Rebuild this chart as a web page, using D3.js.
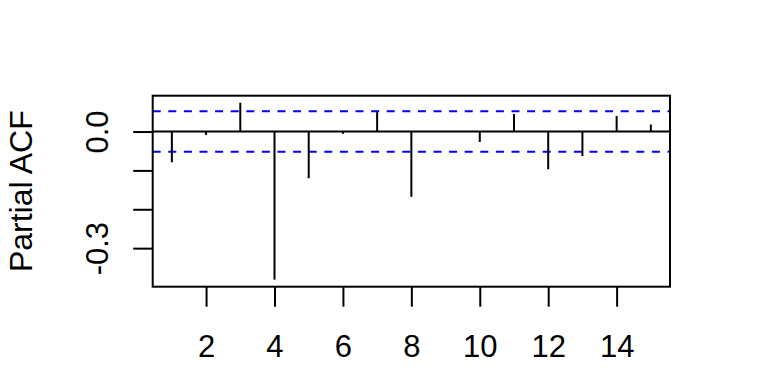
<!DOCTYPE html>
<html>
<head>
<meta charset="UTF-8">
<script src="https://d3js.org/d3.v7.min.js"></script>
<style>
  body { margin: 0; background: #fff; overflow: hidden; }
  svg { display: block; font-family: "Liberation Sans", Arial, sans-serif; }
</style>
</head>
<body>
<div id="chart"></div>
<script>
  // PACF values by lag
  const lags = [1, 2, 3, 4, 5, 6, 7, 8, 9, 10, 11, 12, 13, 14, 15];
  const pacf = [-0.079, -0.009, 0.074, -0.381, -0.120, -0.006, 0.050, -0.168, 0.001, -0.027, 0.045, -0.097, -0.063, 0.040, 0.018];
  const clim = 0.052;
  const xTicks = [2, 4, 6, 8, 10, 12, 14];
  const yTicks = [-0.3, -0.2, -0.1, 0.0];
  const yLabelled = [-0.3, 0.0];

  const W = 768, H = 384;
  const plot = { left: 152.7, right: 670, top: 95.7, bottom: 286.7 };

  const svg = d3.select("#chart").append("svg")
    .attr("width", W).attr("height", H);

  // R style 4% extension of the data range
  const xr = d3.extent(lags), xpad = (xr[1] - xr[0]) * 0.04;
  const yr = d3.extent(pacf.concat([clim, -clim])), ypad = (yr[1] - yr[0]) * 0.04;

  const x = d3.scaleLinear().domain([xr[0] - xpad, xr[1] + xpad]).range([plot.left, plot.right]);
  const y = d3.scaleLinear().domain([yr[0] - ypad, yr[1] + ypad]).range([plot.bottom, plot.top]);

  const fontSize = 31;

  // x axis
  const gx = svg.append("g")
    .attr("transform", `translate(0,${plot.bottom})`)
    .call(d3.axisBottom(x).tickValues(xTicks).tickSize(20).tickFormat(d3.format("d")));
  gx.select(".domain").remove();
  gx.selectAll(".tick line").attr("stroke", "#000").attr("stroke-width", 2);
  gx.selectAll(".tick text").attr("font-size", fontSize).attr("fill", "#000")
    .attr("dy", null).attr("y", 70.5);

  // y axis
  const gy = svg.append("g")
    .attr("transform", `translate(${plot.left},0)`)
    .call(d3.axisLeft(y).tickValues(yTicks).tickSize(19.5)
      .tickFormat(d => yLabelled.some(v => Math.abs(v - d) < 1e-9) ? d3.format(".1f")(d).replace("−", "-") : ""));
  gy.select(".domain").remove();
  gy.selectAll(".tick line").attr("stroke", "#000").attr("stroke-width", 2);
  gy.selectAll(".tick text")
    .attr("font-size", fontSize).attr("fill", "#000")
    .attr("x", null).attr("dy", null).attr("y", null)
    .attr("text-anchor", "middle")
    .attr("transform", "translate(-44.5,0) rotate(-90)");

  // zero line
  svg.append("line")
    .attr("x1", plot.left).attr("x2", plot.right)
    .attr("y1", y(0)).attr("y2", y(0))
    .attr("stroke", "#000").attr("stroke-width", 2);

  // confidence limits
  svg.selectAll("line.clim").data([clim, -clim]).enter().append("line")
    .attr("class", "clim")
    .attr("x1", plot.left).attr("x2", plot.right)
    .attr("y1", d => y(d)).attr("y2", d => y(d))
    .attr("stroke", "#0000ff").attr("stroke-width", 2)
    .attr("stroke-dasharray", "8,7.6");

  // spikes
  svg.selectAll("line.spike").data(lags).enter().append("line")
    .attr("class", "spike")
    .attr("x1", d => x(d)).attr("x2", d => x(d))
    .attr("y1", y(0)).attr("y2", (d, i) => y(pacf[i]))
    .attr("stroke", "#000").attr("stroke-width", 2);

  // box
  svg.append("rect")
    .attr("x", plot.left).attr("y", plot.top)
    .attr("width", plot.right - plot.left).attr("height", plot.bottom - plot.top)
    .attr("fill", "none").attr("stroke", "#000").attr("stroke-width", 2);

  // y label
  svg.append("text")
    .attr("transform", `translate(32,${(plot.top + plot.bottom) / 2}) rotate(-90)`)
    .attr("text-anchor", "middle")
    .attr("font-size", 32)
    .text("Partial ACF");
</script>
</body>
</html>
